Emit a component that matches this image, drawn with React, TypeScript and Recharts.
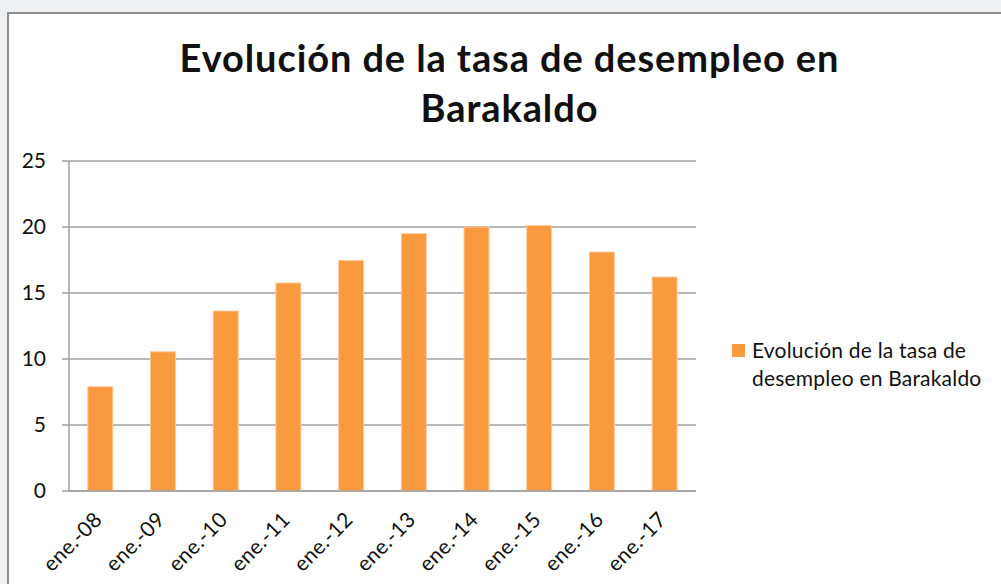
import React from 'react';
import { BarChart, Bar, XAxis, YAxis, CartesianGrid, Legend } from 'recharts';

const categories = ['ene.-08', 'ene.-09', 'ene.-10', 'ene.-11', 'ene.-12', 'ene.-13', 'ene.-14', 'ene.-15', 'ene.-16', 'ene.-17'];
const values = [7.9, 10.55, 13.64, 15.76, 17.47, 19.5, 20.0, 20.12, 18.1, 16.21];
const yTicks = [0, 5, 10, 15, 20, 25];
const boundaryTicks = [0, 1, 2, 3, 4, 5, 6, 7, 8, 9, 10];
const seriesName = 'Evolución de la tasa de desempleo en Barakaldo';
const titleLines = ['Evolución de la tasa de desempleo en', 'Barakaldo'];
const legendLines = ['Evolución de la tasa de', 'desempleo en Barakaldo'];

const data = categories.map((c, i) => ({ cat: c, v: values[i], pos: i + 0.5 }));

const FONT = 'Lato, "Open Sans", sans-serif';
const AXIS = '#A0A0A0';
const BAR = '#F99A3E';

const XTick = (props: any) => {
  const { x, y, payload } = props;
  const ax = x - 3;
  const ay = y + 16;
  return (
    <text
      x={ax}
      y={ay}
      transform={`rotate(-45, ${ax}, ${ay})`}
      textAnchor="end"
      dominantBaseline="central"
      fontFamily={FONT}
      fontSize={21}
      letterSpacing={0.3}
      fill="#111"
    >
      {payload.value}
    </text>
  );
};

const LegendContent = () => (
  <div style={{ display: 'flex', alignItems: 'flex-start', fontFamily: FONT, fontSize: 21, letterSpacing: 0.2, color: '#111', lineHeight: '28px' }}>
    <div style={{ width: 13, height: 13, background: BAR, marginTop: 8, marginRight: 7, flexShrink: 0 }} />
    <div>
      {legendLines.map((l, i) => (
        <div key={i} style={{ whiteSpace: 'nowrap' }}>{l}</div>
      ))}
    </div>
  </div>
);

export default function App() {
  return (
    <div style={{ position: 'absolute', left: 0, top: 0, width: 1001, height: 584, background: '#EEEFF1', overflow: 'hidden' }}>
      <div
        style={{
          position: 'absolute',
          left: 7,
          top: 12,
          right: 0,
          bottom: 0,
          background: '#FFFFFF',
          borderTop: '2px solid #8E8E8E',
          borderLeft: '2px solid #8E8E8E',
        }}
      />
      <div
        style={{
          position: 'absolute',
          left: 0,
          width: 1019,
          top: 32,
          textAlign: 'center',
          fontFamily: FONT,
          fontWeight: 700,
          fontSize: 38,
          letterSpacing: 0.9,
          lineHeight: '50px',
          color: '#111',
        }}
      >
        {titleLines.map((l, i) => (
          <div key={i}>{l}</div>
        ))}
      </div>
      <div style={{ position: 'absolute', left: 0, top: 0 }}>
        <BarChart
          width={1001}
          height={584}
          data={data}
          margin={{ top: 161, right: 305, bottom: 0, left: 0 }}
          barCategoryGap="30%"
        >
          <CartesianGrid vertical={false} stroke={AXIS} strokeWidth={1.5} />
          <XAxis
            xAxisId="b"
            type="number"
            dataKey="pos"
            domain={[0, 10]}
            allowDataOverflow
            ticks={boundaryTicks}
            interval={0}
            height={0}
            tick={false}
            tickSize={7}
            tickLine={{ stroke: AXIS, strokeWidth: 1.5 }}
            axisLine={false}
          />
          <XAxis
            dataKey="cat"
            height={93}
            interval={0}
            tickLine={false}
            axisLine={{ stroke: AXIS, strokeWidth: 1.5 }}
            tick={<XTick />}
          />
          <YAxis
            width={69}
            domain={[0, 25]}
            ticks={yTicks}
            interval={0}
            tickSize={7}
            tickMargin={16}
            tickLine={{ stroke: AXIS, strokeWidth: 1.5 }}
            axisLine={{ stroke: AXIS, strokeWidth: 1.5 }}
            tick={{ fontFamily: FONT, fontSize: 21, fill: '#111' }}
          />
          <Legend
            layout="vertical"
            align="center"
            verticalAlign="middle"
            wrapperStyle={{ left: 732, top: 336, width: 265 }}
            content={<LegendContent />}
          />
          <Bar dataKey="v" name={seriesName} fill={BAR} stroke="#FCCB9C" strokeWidth={1} isAnimationActive={false} />
        </BarChart>
      </div>
    </div>
  );
}
